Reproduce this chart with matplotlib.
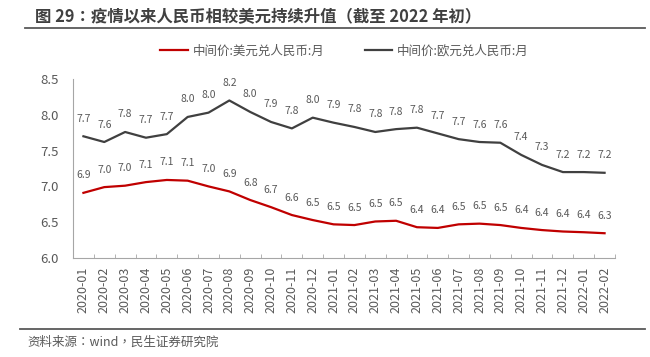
import matplotlib
matplotlib.use("Agg")
import matplotlib.pyplot as plt
import numpy as np

plt.rcParams["font.family"] = ["Noto Sans CJK SC", "DejaVu Sans"]

months = [
    "2020-01", "2020-02", "2020-03", "2020-04", "2020-05", "2020-06",
    "2020-07", "2020-08", "2020-09", "2020-10", "2020-11", "2020-12",
    "2021-01", "2021-02", "2021-03", "2021-04", "2021-05", "2021-06",
    "2021-07", "2021-08", "2021-09", "2021-10", "2021-11", "2021-12",
    "2022-01", "2022-02",
]
usd_cny = [6.91, 6.99, 7.01, 7.06, 7.09, 7.08, 7.00, 6.93, 6.81, 6.71, 6.60, 6.53,
           6.47, 6.46, 6.51, 6.52, 6.43, 6.42, 6.47, 6.48, 6.46, 6.42, 6.39, 6.37,
           6.36, 6.346]
eur_cny = [7.70, 7.62, 7.76, 7.68, 7.73, 7.97, 8.03, 8.20, 8.04, 7.90, 7.81, 7.96,
           7.89, 7.83, 7.76, 7.80, 7.82, 7.74, 7.66, 7.62, 7.61, 7.44, 7.30, 7.20,
           7.20, 7.19]
yticks = [6.0, 6.5, 7.0, 7.5, 8.0, 8.5]

title = "图 29：疫情以来人民币相较美元持续升值（截至 2022 年初）"
source = "资料来源：wind，民生证券研究院"
label_usd = "中间价:美元兑人民币:月"
label_eur = "中间价:欧元兑人民币:月"

RED = "#C00000"
GRAY = "#404040"
TXT = "#595959"
# TC 字形的全角标点居中，与原图一致
TC = ["Noto Sans CJK TC", "DejaVu Sans"]

fig = plt.figure(figsize=(6.5, 3.57), dpi=100)
ax = fig.add_axes([73 / 650, 1 - 258 / 357, (615 - 73) / 650, (258 - 79) / 357])

x = np.arange(len(months))
ax.plot(x, usd_cny, color=RED, lw=1.6, label=label_usd)
ax.plot(x, eur_cny, color=GRAY, lw=1.6, label=label_eur)

for series in (usd_cny, eur_cny):
    for xi, v in zip(x, series):
        ax.annotate(f"{v:.1f}", (xi, v), xytext=(0, 9), textcoords="offset points",
                    ha="center", va="bottom", fontsize=7.5, color=TXT)

ax.set_xlim(-0.5, len(months) - 0.5)
ax.set_ylim(6.0, 8.5)
ax.set_yticks(yticks)
ax.set_yticklabels([f"{t:.1f}" for t in yticks], fontsize=9.5, color=TXT)
ax.tick_params(axis="y", length=0, pad=10)

ax.set_xticks(x)
ax.set_xticklabels(months, rotation=90, fontsize=9, color=TXT)
ax.tick_params(axis="x", length=0, pad=6)
ax.set_xticks(np.arange(len(months) + 1) - 0.5, minor=True)
ax.tick_params(axis="x", which="minor", direction="in", length=3, color="#A6A6A6")

for side in ("top", "right"):
    ax.spines[side].set_visible(False)
for side in ("left", "bottom"):
    ax.spines[side].set_color("#A6A6A6")
    ax.spines[side].set_linewidth(0.8)

fig.legend(loc="center", bbox_to_anchor=(0.53, 1 - 51 / 357), ncol=2, frameon=False,
           fontsize=9, handlelength=2.2, handletextpad=0.4, columnspacing=3.2,
           labelcolor=TXT)

fig.text(35 / 650, 1 - 17 / 357, title, fontsize=11.8, fontweight="bold",
         color="#404040", va="center", ha="left", family=TC)
fig.add_artist(plt.Line2D([25 / 650, 645 / 650], [1 - 28 / 357] * 2,
                          color="#595959", lw=1.3, transform=fig.transFigure))
fig.add_artist(plt.Line2D([20 / 650, 645 / 650], [1 - 329 / 357] * 2,
                          color="#595959", lw=1.3, transform=fig.transFigure))
fig.text(27 / 650, 1 - 342 / 357, source, fontsize=9, color=TXT, va="center",
         ha="left", family=TC)

fig.savefig("out.png", dpi=100)
